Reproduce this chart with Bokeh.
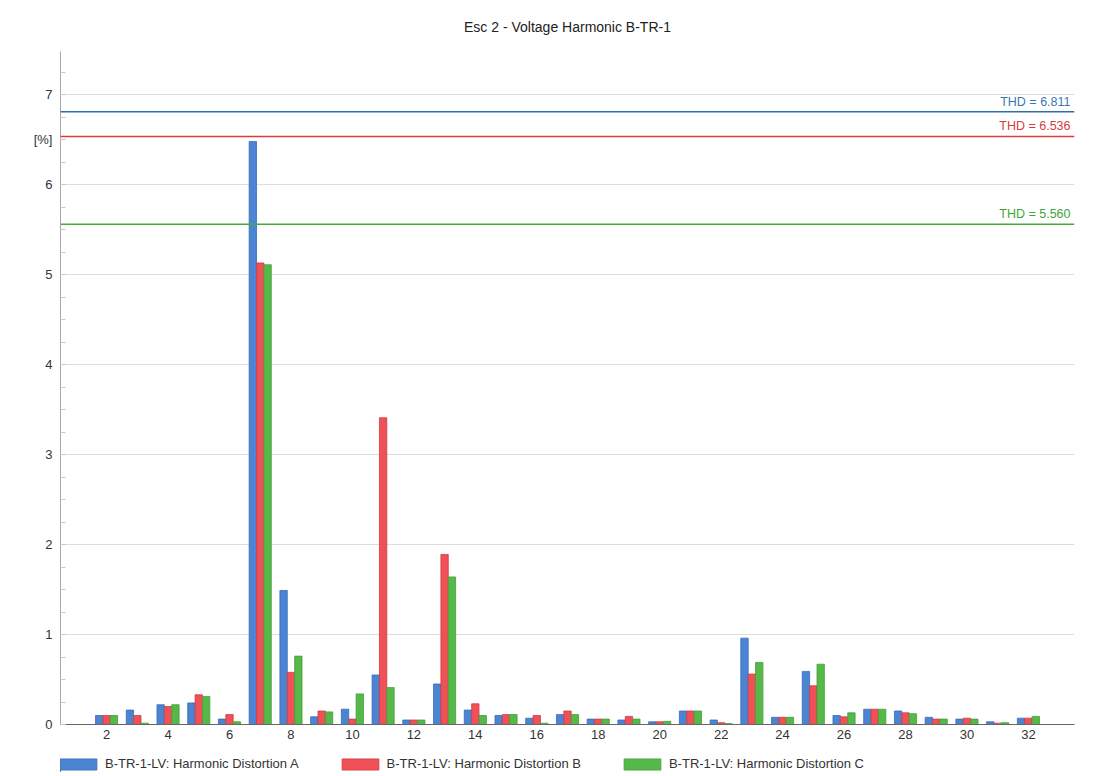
from bokeh.plotting import figure
from bokeh.layouts import column
from bokeh.models import (ColumnDataSource, Range1d, FixedTicker, CustomJSTickFormatter,
                          Span, Label, Legend, LegendItem)
from bokeh.transform import dodge
from bokeh.embed import file_html
from bokeh.resources import INLINE

harmonics = list(range(2, 33))
dist_a = [0.10, 0.16, 0.22, 0.24, 0.06, 6.48, 1.49, 0.085, 0.17, 0.55, 0.05, 0.45, 0.16, 0.10, 0.07,
          0.11, 0.06, 0.05, 0.03, 0.15, 0.05, 0.96, 0.08, 0.59, 0.10, 0.17, 0.15, 0.08, 0.06, 0.03, 0.07]
dist_b = [0.10, 0.10, 0.20, 0.33, 0.11, 5.13, 0.58, 0.15, 0.06, 3.41, 0.05, 1.89, 0.23, 0.11, 0.10,
          0.15, 0.06, 0.09, 0.03, 0.15, 0.02, 0.56, 0.08, 0.43, 0.085, 0.17, 0.13, 0.06, 0.07, 0.015, 0.07]
dist_c = [0.10, 0.015, 0.22, 0.31, 0.03, 5.11, 0.76, 0.14, 0.34, 0.41, 0.05, 1.64, 0.10, 0.11, 0.015,
          0.11, 0.06, 0.06, 0.035, 0.15, 0.01, 0.69, 0.08, 0.67, 0.13, 0.17, 0.12, 0.06, 0.06, 0.02, 0.09]
series_names = ["B-TR-1-LV: Harmonic Distortion A",
                "B-TR-1-LV: Harmonic Distortion B",
                "B-TR-1-LV: Harmonic Distortion C"]
thd_values = [6.811, 6.536, 5.560]
x_ticks = list(range(2, 33, 2))
y_ticks = [0, 1, 2, 3, 4, 5, 6, 7]
unit_label = "[%]"
unit_pos = 6.5
title_text = "Esc 2 - Voltage Harmonic B-TR-1"

FONT = "Liberation Sans"
fills = ["#4a84d2", "#ef5157", "#57b84a"]
edges = ["#3a6cb8", "#cf3c42", "#43a038"]
thd_line = ["#2f6ea8", "#e2383e", "#45ab38"]
thd_text = ["#3b78b2", "#d93a3f", "#3fa535"]

W = 1092

# title strip (its frame aligns with the chart frame, so the title is centred over the chart)
tt = figure(width=W, height=40, output_backend="svg", toolbar_location=None, title=None,
            x_range=Range1d(0, 1), y_range=Range1d(0, 1), x_axis_type=None, y_axis_type=None,
            min_border=0, min_border_left=0, min_border_right=0, min_border_top=0, min_border_bottom=0)
tt.outline_line_color = None
tt.grid.visible = False
tt.add_layout(Label(x=0.5, y=0.35, text=title_text, text_align="center", text_baseline="middle",
                    text_font=FONT, text_font_size="14px", text_color="#222222"))

src = ColumnDataSource(dict(h=harmonics, a=dist_a, b=dist_b, c=dist_c))

p = figure(width=W, height=712, output_backend="svg", toolbar_location=None, title=None,
           x_range=Range1d(0.5, 33.5), y_range=Range1d(0, 7.48),
           min_border_left=60, min_border_right=18, min_border_top=11, min_border_bottom=28)
p.outline_line_color = None
p.background_fill_color = "white"
p.border_fill_color = "white"

bw = 0.24
for col, off, fc, ec in zip(["a", "b", "c"], [-bw, 0, bw], fills, edges):
    p.vbar(x=dodge("h", off, range=p.x_range), top=col, bottom=0, width=bw, source=src,
           fill_color=fc, line_color=ec, line_width=0.8)

# axes
p.xaxis.ticker = FixedTicker(ticks=x_ticks)
p.xaxis.major_tick_in = 0
p.xaxis.major_tick_out = 0
p.xaxis.minor_tick_in = 0
p.xaxis.minor_tick_out = 0
p.xaxis.axis_line_color = "#666666"
p.xaxis.major_label_text_font = FONT
p.xaxis.major_label_text_font_size = "13px"
p.xaxis.major_label_text_color = "#333333"
p.xaxis.major_label_standoff = 5

minor = [i * 0.25 for i in range(0, 30)]
p.yaxis.ticker = FixedTicker(ticks=y_ticks + [unit_pos], minor_ticks=minor)
p.yaxis.formatter = CustomJSTickFormatter(
    args=dict(ul=unit_label, up=unit_pos),
    code="return Math.abs(tick - up) < 1e-6 ? ul : tick.toFixed(0);")
p.yaxis.axis_line_color = "#a8a8a8"
p.yaxis.major_tick_in = 5
p.yaxis.major_tick_out = 0
p.yaxis.minor_tick_in = 5
p.yaxis.minor_tick_out = 0
p.yaxis.major_tick_line_color = "#c8c8c8"
p.yaxis.minor_tick_line_color = "#c8c8c8"
p.yaxis.major_label_text_font = FONT
p.yaxis.major_label_text_font_size = "13px"
p.yaxis.major_label_text_color = "#333333"
p.yaxis.major_label_standoff = 8

p.xgrid.grid_line_color = None
p.ygrid.ticker = FixedTicker(ticks=y_ticks[1:])
p.ygrid.grid_line_color = "#dedede"
p.ygrid.grid_line_width = 1

# THD lines
for v, lc, tc in zip(thd_values, thd_line, thd_text):
    p.add_layout(Span(location=v, dimension="width", line_color=lc, line_width=1.5))
    p.add_layout(Label(x=33.5, y=v, x_offset=-4, y_offset=3, text="THD = %.3f" % v,
                       text_align="right", text_baseline="bottom", text_font=FONT,
                       text_font_size="12.5px", text_color=tc))

# legend strip (separate small figure below the chart; its frame aligns with the chart's)
lg = figure(width=W, height=20, output_backend="svg", toolbar_location=None, title=None,
            x_range=Range1d(0, 1), y_range=Range1d(0, 1), x_axis_type=None, y_axis_type=None,
            min_border=0, min_border_left=0, min_border_right=0, min_border_top=0, min_border_bottom=0)
lg.outline_line_color = None
lg.grid.visible = False
lrs = []
for fc, ec in zip(fills, edges):
    # placeholder bars lying far outside the strip's view: only used for the legend swatches
    lrs.append(lg.vbar(x=[-5], top=[0.5], width=0.1, fill_color=fc, line_color=ec, line_width=0.8))
legend = Legend(items=[LegendItem(label=n, renderers=[r]) for n, r in zip(series_names, lrs)],
                orientation="horizontal", location=(-5, 1),
                glyph_width=46, glyph_height=14, label_standoff=4, spacing=38,
                padding=0, margin=0, border_line_color=None, background_fill_alpha=0,
                label_text_font=FONT, label_text_font_size="13px",
                label_text_color="#333333", label_height=14)
lg.add_layout(legend)

layout = column(tt, p, lg, spacing=0)
open("out.html", "w").write(file_html(layout, INLINE))
